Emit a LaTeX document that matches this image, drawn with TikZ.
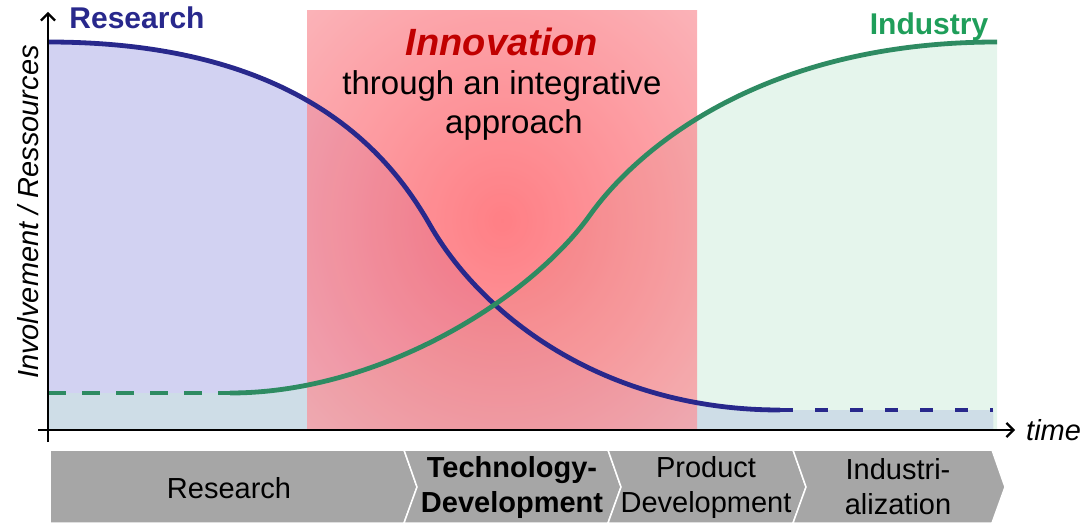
\documentclass[tikz,border=0pt]{standalone}
\usepackage{fontspec}
\setmainfont{Liberation Sans}
\usetikzlibrary{arrows.meta}
\definecolor{resblue}{HTML}{28288C}
\definecolor{indgreen}{HTML}{2E8B62}
\definecolor{indtext}{HTML}{1F9E5A}
\definecolor{innored}{HTML}{C00000}
\definecolor{chevgray}{HTML}{A6A6A6}
\definecolor{bluefill}{RGB}{60,60,200}
\definecolor{greenfill}{RGB}{40,170,100}
\definecolor{overlapfill}{HTML}{CEDDE7}
\definecolor{glowin}{RGB}{255,84,92}
\definecolor{glowout}{RGB}{249,158,165}
\pgfdeclareradialshading{glow}{\pgfpoint{0bp}{0bp}}{color(0bp)=(glowin); color(38bp)=(glowout); color(75bp)=(glowout)}
\tikzset{
  lbl/.style={font=\fontsize{29}{35}\selectfont, align=center, inner sep=0pt},
  chev/.style={fill=chevgray, draw=white, line width=1.5pt},
  axisline/.style={line width=2.2pt, -{Straight Barb[length=7pt,width=14pt]}},
  bluecurve/.style={resblue, line width=4.8pt},
  greencurve/.style={indgreen, line width=4.8pt},
}
\begin{document}
\begin{tikzpicture}[x=1pt,y=-1pt]
\useasboundingbox (0,0) rectangle (1083,526);
% fills
\fill[bluefill, fill opacity=0.23] (48,430) -- (48,42) .. controls (300,42) and (390,155) .. (430,225) .. controls (480,312.5) and (600,410) .. (780,410) -- (993,410) -- (993,430) -- cycle;
\fill[greenfill, fill opacity=0.12] (48,430) -- (48,393) -- (230,393) .. controls (380,393) and (530,299) .. (590,215) .. controls (640,145) and (767,42) .. (997,42) -- (997,430) -- cycle;
\begin{scope}
\clip (48,430) -- (48,393) -- (230,393) .. controls (380,393) and (530,299) .. (590,215) .. controls (640,145) and (767,42) .. (997,42) -- (997,430) -- cycle;
\fill[overlapfill] (48,430) -- (48,42) .. controls (300,42) and (390,155) .. (430,225) .. controls (480,312.5) and (600,410) .. (780,410) -- (993,410) -- (993,430) -- cycle;
\end{scope}
% innovation area
\shade[shading=glow, fill opacity=0.75] (307,11) rectangle (697,430);
% curves
\draw[bluecurve] (48,42) .. controls (300,42) and (390,155) .. (430,225) .. controls (480,312.5) and (600,410) .. (780,410);
\draw[bluecurve, dash pattern=on 13pt off 22pt] (780,410) -- (993,410);
\draw[greencurve] (230,393) .. controls (380,393) and (530,299) .. (590,215) .. controls (640,145) and (767,42) .. (997,42);
\draw[greencurve, dash pattern=on 18pt off 16pt] (48,393) -- (230,393);
% axes
\coordinate (ybot) at (48,442);
\coordinate (ytop) at (48,12);
\coordinate (xleft) at (38,430);
\coordinate (xright) at (1015,430);
\draw[axisline] (ybot) -- (ytop);
\draw[axisline] (xleft) -- (xright);
\node[lbl, anchor=west, font=\fontsize{29}{35}\selectfont\itshape] (time) at (1026,430) {time};
\node[lbl, rotate=90, font=\fontsize{29}{35}\selectfont\itshape] (ylab) at (28,212) {Involvement / Ressources};
\node[lbl, font=\fontsize{30}{36}\selectfont\bfseries, text=resblue] (reslab) at (137,18) {Research};
\node[lbl, font=\fontsize{30}{36}\selectfont\bfseries, text=indtext] (indlab) at (929,27) {Industry};
\node[lbl, font=\fontsize{38}{44}\selectfont\bfseries\itshape, text=innored] (inno) at (502,42) {Innovation};
\node[lbl, font=\fontsize{33}{40}\selectfont] (inno2) at (502,86) {through an integrative};
\node[lbl, font=\fontsize{33}{40}\selectfont] (inno3) at (514,125) {approach};
% chevrons
\draw[chev] (50,450) -- (404,450) -- (417,487) -- (404,523) -- (50,523) -- cycle;
\draw[chev] (404,450) -- (608,450) -- (621,487) -- (608,523) -- (404,523) -- (417,487) -- cycle;
\draw[chev] (608,450) -- (793,450) -- (806,487) -- (793,523) -- (608,523) -- (621,487) -- cycle;
\draw[chev] (793,450) -- (992,450) -- (1005,487) -- (992,523) -- (793,523) -- (806,487) -- cycle;
\node[lbl] (c1) at (229,488) {Research};
\node[lbl, font=\fontsize{29}{35}\selectfont\bfseries] (c2) at (512,487) {Technology-\\Development};
\node[lbl] (c3) at (706,487) {Product\\Development};
\node[lbl] (c4) at (898,487) {Industri-\\alization};
\end{tikzpicture}
\end{document}
